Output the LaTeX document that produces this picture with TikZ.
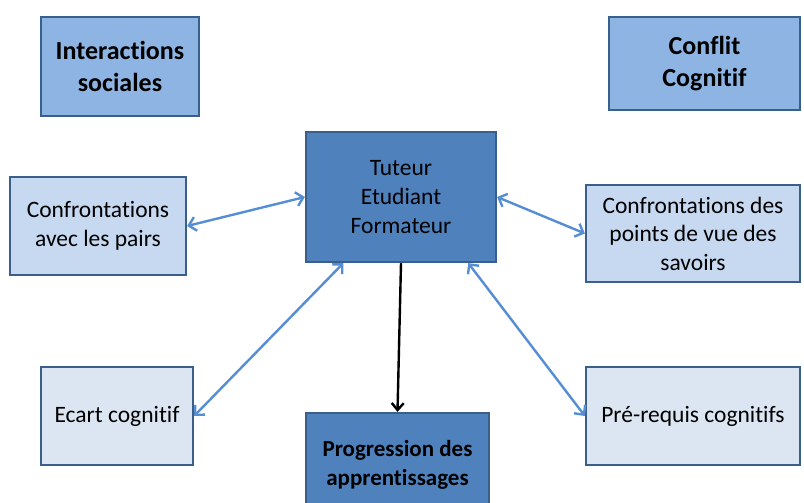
\documentclass[tikz,border=0pt]{standalone}
\usepackage{fontspec}
\setmainfont{Carlito}[Ligatures={NoCommon,NoRequired,NoContextual}]
\usetikzlibrary{arrows.meta,calc}
\definecolor{bordc}{HTML}{3A5F8B}
\definecolor{headc}{HTML}{8EB4E3}
\definecolor{midc}{HTML}{4F81BD}
\definecolor{lightc}{HTML}{C6D9F1}
\definecolor{palec}{HTML}{DCE6F2}
\definecolor{arrc}{HTML}{558ED5}
\tikzset{
  box/.style={draw=bordc, line width=2.2pt, align=center, inner sep=0pt, text=black},
  headbox/.style={box, fill=headc, font=\fontsize{26}{32}\selectfont\bfseries},
  centbox/.style={box, fill=midc, font=\fontsize{23.5}{29}\selectfont},
  progbox/.style={box, fill=midc, font=\fontsize{23}{29}\selectfont\bfseries},
  lbox/.style={box, fill=lightc, font=\fontsize{23.5}{28.5}\selectfont},
  pbox/.style={box, fill=palec, font=\fontsize{23.5}{28.5}\selectfont},
  link/.style={draw=arrc, line width=2.4pt, {Straight Barb[length=7pt,width=14pt]}-{Straight Barb[length=7pt,width=14pt]}},
  down/.style={draw=black, line width=2.4pt, -{Straight Barb[length=7pt,width=12pt]}}
}
\begin{document}
\begin{tikzpicture}[x=1pt,y=-1pt]
\useasboundingbox (0,0) rectangle (804,503);
\clip (0,0) rectangle (804,503);
\fill[white] (0,0) rectangle (804,503);
\node[headbox, minimum width=158pt, minimum height=99pt] (inter) at (120,66.5) {Interactions\\sociales};
\node[headbox, minimum width=191pt, minimum height=93pt] (conflit) at (704.5,63.5) {\raisebox{0pt}[\height][\depth]{}Conflit\\Cognitif};
\node[centbox, minimum width=190pt, minimum height=130pt] (tuteur) at (401,197) {Tuteur\\Etudiant\\Formateur};
\node[lbox, minimum width=176pt, minimum height=98pt] (pairs) at (98,226) {Confrontations\\avec les pairs};
\node[lbox, minimum width=214pt, minimum height=97pt] (savoirs) at (693,233.5) {Confrontations des\\points de vue des\\savoirs};
\node[pbox, minimum width=152pt, minimum height=98pt] (ecart) at (117,416) {Ecart cognitif};
\node[pbox, minimum width=214pt, minimum height=98pt] (prereq) at (693,416) {Pré-requis cognitifs};
\node[progbox, minimum width=183pt, minimum height=104pt] (prog) at (397.5,465) {Progression des\\apprentissages};
\draw[link] (pairs.east) -- (tuteur.west);
\draw[link] (tuteur.east) -- (savoirs.west);
\draw[link] (ecart.east) -- ($(tuteur.south west)!0.2!(tuteur.south east)$);
\draw[link] (prereq.west) -- ($(tuteur.south west)!0.85!(tuteur.south east)$);
\draw[down] (tuteur.south) -- (prog.north);
\end{tikzpicture}
\end{document}
